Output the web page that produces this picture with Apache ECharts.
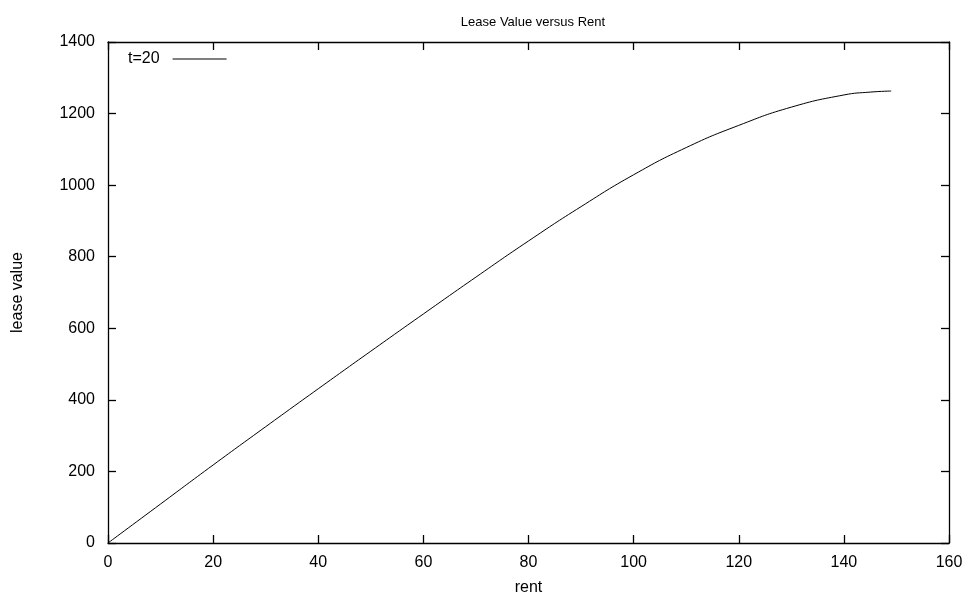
<!DOCTYPE html>
<html>
<head>
<meta charset="utf-8">
<script src="https://cdn.jsdelivr.net/npm/echarts@6/dist/echarts.min.js"></script>
<style>
  html, body { margin: 0; padding: 0; background: #fff; }
  #chart { width: 975px; height: 601px; }
</style>
</head>
<body>
<div id="chart"></div>
<script>
// values
const rent = [0, 10, 20, 30, 40, 50, 60, 70, 80, 90, 100, 110, 120, 130, 140, 145, 149];
const leaseValue = [0, 109, 218, 325, 431, 536, 640, 743, 844, 940, 1029, 1105, 1167, 1218, 1252, 1260, 1263];
const seriesName = 't=20';

const font = 'Liberation Sans, Arial, sans-serif';
const black = '#000';

const chart = echarts.init(document.getElementById('chart'));

// shared look for the four frame axes: ticks point into the plot
const baseAxis = {
    axisLine: { show: true, onZero: false, lineStyle: { color: black, width: 1.3 } },
    axisTick: { show: true, inside: true, length: 8, lineStyle: { color: black, width: 1.3 } },
    splitLine: { show: false }
};
const plain = v => String(v);

const option = {
    animation: false,
    backgroundColor: '#fff',
    title: {
        text: 'Lease Value versus Rent',
        left: 528,
        textAlign: 'center',
        top: 11,
        textStyle: { fontFamily: font, fontSize: 13, fontWeight: 'normal', color: black }
    },
    legend: {
        left: 128,
        top: 51,
        padding: 0,
        align: 'right',
        itemWidth: 54,
        itemHeight: 1,
        icon: 'path://M0,0 L54,0 L54,1 L0,1 Z',
        textStyle: { fontFamily: font, fontSize: 16, color: black, padding: [0, 8, 0, 0] },
        data: [seriesName]
    },
    grid: { left: 108, right: 26, top: 42, bottom: 56 },
    xAxis: [
        Object.assign({}, baseAxis, {
            type: 'value', min: 0, max: 160, interval: 20,
            name: 'rent', nameLocation: 'middle', nameGap: 37,
            nameTextStyle: { fontFamily: font, fontSize: 16, color: black },
            axisLabel: { fontFamily: font, fontSize: 16, color: black, margin: 12, formatter: plain }
        }),
        Object.assign({}, baseAxis, {
            type: 'value', min: 0, max: 160, interval: 20, position: 'top',
            axisLabel: { show: false }
        })
    ],
    yAxis: [
        Object.assign({}, baseAxis, {
            type: 'value', min: 0, max: 1400, interval: 200,
            name: 'lease value', nameLocation: 'middle', nameGap: 82,
            nameTextStyle: { fontFamily: font, fontSize: 16, color: black },
            axisLabel: { fontFamily: font, fontSize: 16, color: black, margin: 13, formatter: plain }
        }),
        Object.assign({}, baseAxis, {
            type: 'value', min: 0, max: 1400, interval: 200, position: 'right',
            axisLabel: { show: false }
        })
    ],
    series: [
        {
            name: seriesName,
            type: 'line',
            smooth: true,
            symbol: 'none',
            data: rent.map((r, i) => [r, leaseValue[i]]),
            lineStyle: { color: black, width: 1 },
            itemStyle: { color: black }
        }
    ]
};

chart.setOption(option);
</script>
</body>
</html>
